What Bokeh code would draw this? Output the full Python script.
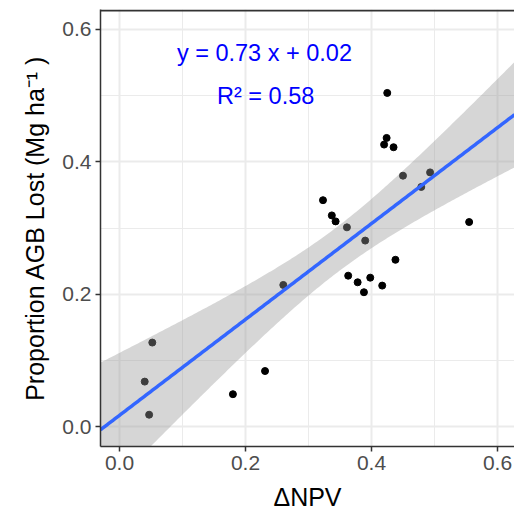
import numpy as np
from bokeh.plotting import figure
from bokeh.models import ColumnDataSource, FixedTicker, Range1d, BoxAnnotation
from bokeh.core.properties import value
from bokeh.embed import file_html
from bokeh.resources import INLINE

# ---- data ----
npv = [0.425, 0.424, 0.420, 0.435, 0.450, 0.493, 0.479, 0.323, 0.337, 0.343,
       0.361, 0.390, 0.555, 0.438, 0.363, 0.378, 0.398, 0.388, 0.417, 0.260,
       0.052, 0.040, 0.047, 0.180, 0.231]
agb = [0.504, 0.436, 0.426, 0.422, 0.379, 0.384, 0.362, 0.342, 0.319, 0.310,
       0.301, 0.281, 0.309, 0.252, 0.228, 0.218, 0.225, 0.203, 0.213, 0.214,
       0.127, 0.068, 0.018, 0.049, 0.084]
tick_values = [0.0, 0.2, 0.4, 0.6]
tick_labels = ["0.0", "0.2", "0.4", "0.6"]
minor_values = [-0.1, 0.1, 0.3, 0.5]
eq_text = "y = 0.73 x + 0.02"
r2_text = "R² = 0.58"
x_title = "ΔNPV"
y_title = "Proportion AGB Lost (Mg ha⁻¹ )"

X_START, X_END = -0.0302, 0.6270
Y_START, Y_END = -0.030, 0.630

# ---- linear fit with 95% confidence band (fullrange) ----
x = np.array(npv)
y = np.array(agb)
slope, intercept = np.polyfit(x, y, 1)
n = len(x)
resid = y - (slope * x + intercept)
s = np.sqrt(np.sum(resid ** 2) / (n - 2))
sxx = np.sum((x - x.mean()) ** 2)
t_crit = 2.069  # t(0.975, df=23)
xs = np.linspace(X_START, X_END, 200)
fit = slope * xs + intercept
se = s * np.sqrt(1.0 / n + (xs - x.mean()) ** 2 / sxx)
lower = fit - t_crit * se
upper = fit + t_crit * se

pts = ColumnDataSource(dict(x=npv, y=agb))
band = ColumnDataSource(dict(x=xs, lo=lower, hi=upper, fit=fit))

p = figure(width=514, height=513, output_backend="svg", toolbar_location=None,
           x_range=Range1d(X_START, X_END), y_range=Range1d(Y_START, Y_END),
           min_border_left=100, min_border_top=9, min_border_right=0, min_border_bottom=65)

p.background_fill_color = "white"
p.border_fill_color = "white"
p.outline_line_color = None

p.scatter("x", "y", source=pts, size=7, color="black")
p.varea(x="x", y1="lo", y2="hi", source=band, fill_color="#999999", fill_alpha=0.4)
p.line(x="x", y="fit", source=band, line_color="#3366FF", line_width=3.5)

ann = ColumnDataSource(dict(x=[0.230, 0.232], y=[0.565, 0.500], t=[eq_text, r2_text]))
p.text(x="x", y="y", text="t", source=ann, text_align="center", text_baseline="middle",
       text_color="#0000FF", text_font=value("Liberation Sans"), text_font_size="23.5px")

for ax in (p.xaxis[0], p.yaxis[0]):
    ax.ticker = FixedTicker(ticks=tick_values, minor_ticks=minor_values)
    ax.major_label_overrides = {v: l for v, l in zip(tick_values, tick_labels)}
    ax.major_label_text_font = "Liberation Sans"
    ax.major_label_text_font_size = "21px"
    ax.major_label_text_color = "#4D4D4D"
    ax.axis_label_text_font = "Liberation Sans"
    ax.axis_label_text_font_size = "25px"
    ax.axis_label_text_font_style = "normal"
    ax.axis_label_text_color = "black"
    ax.axis_line_color = "#333333"
    ax.axis_line_width = 1.5
    ax.major_tick_line_color = "#333333"
    ax.major_tick_line_width = 1.5
    ax.major_tick_out = 5
    ax.major_tick_in = 0
    ax.minor_tick_line_color = None
    ax.major_label_standoff = 4

p.xaxis.axis_label = x_title
p.yaxis.axis_label = y_title
p.xaxis.axis_label_standoff = 10
p.yaxis.axis_label_standoff = 10

for g in (p.xgrid[0], p.ygrid[0]):
    g.grid_line_color = "#EBEBEB"
    g.grid_line_width = 2
    g.minor_grid_line_color = "#EBEBEB"
    g.minor_grid_line_width = 1

# panel border on top only (the reference's right border is cut off)
top_border = BoxAnnotation(top=Y_END, bottom=Y_END - 0.003, fill_color="#333333",
                           fill_alpha=1.0, line_color=None)
p.add_layout(top_border)

open("out.html", "w").write(file_html(p, INLINE))
